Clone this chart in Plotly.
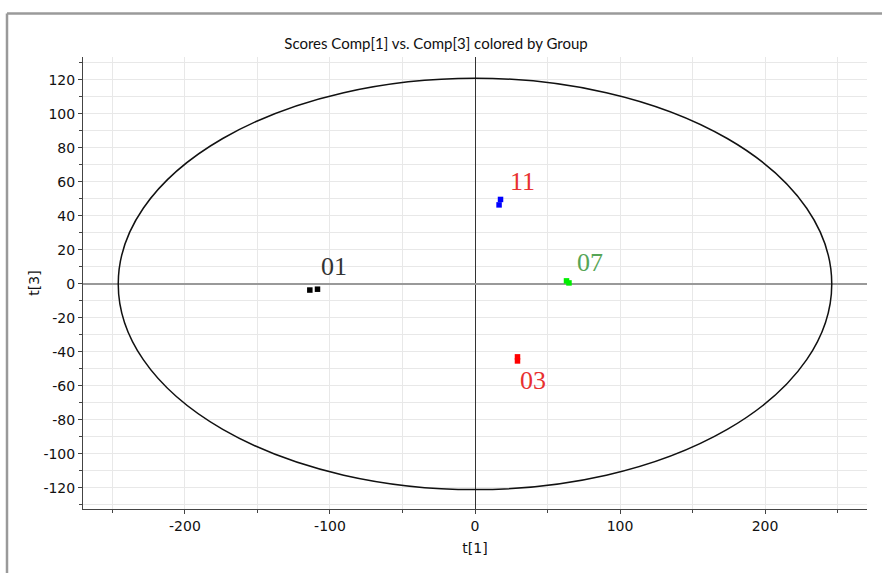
import plotly.graph_objects as go

# ---- data ----
groups = ["01", "11", "07", "03"]
group_x = {
    "01": [-113.9, -108.6],
    "11": [17.6, 16.6],
    "07": [63.1, 64.8],
    "03": [29.3, 29.3],
}
group_y = {
    "01": [-3.6, -3.1],
    "11": [49.7, 46.5],
    "07": [1.8, 0.6],
    "03": [-42.9, -45.3],
}
marker_colors = {"01": "#000000", "11": "#0000ff", "07": "#00ee00", "03": "#ff0000"}
label_colors = {"01": "#333333", "11": "#e8302f", "07": "#56a556", "03": "#e8302f"}
label_x = {"01": -97.0, "11": 33.0, "07": 79.0, "03": 40.0}
label_y = {"01": 10.0, "11": 60.5, "07": 12.5, "03": -57.0}

ellipse_a = 246.0
ellipse_b = 121.0

x_range = [-270.3, 270.3]
y_range = [-132.4, 133.5]
x_tickvals = [-200, -100, 0, 100, 200]
x_ticktext = ["-200", "-100", "0", "100", "200"]
y_tickvals = [-120, -100, -80, -60, -40, -20, 0, 20, 40, 60, 80, 100, 120]
y_ticktext = ["-120", "-100", "-80", "-60", "-40", "-20", "0", "20", "40", "60", "80", "100", "120"]

title_text = "Scores Comp[1] vs. Comp[3] colored by Group"
x_title = "t[1]"
y_title = "t[3]"

# ---- figure ----
fig = go.Figure()
for g in groups:
    fig.add_trace(go.Scatter(
        x=group_x[g], y=group_y[g], mode="markers",
        marker=dict(symbol="square", size=5.5, color=marker_colors[g], line=dict(width=0)),
        showlegend=False, hoverinfo="x+y",
    ))
    fig.add_annotation(
        x=label_x[g], y=label_y[g], text=g, showarrow=False,
        font=dict(family="Liberation Serif", size=26, color=label_colors[g]),
        xanchor="center", yanchor="middle",
    )

fig.add_shape(type="circle", xref="x", yref="y",
              x0=-ellipse_a, x1=ellipse_a, y0=-ellipse_b, y1=ellipse_b,
              line=dict(color="#111111", width=1.5), layer="above")

W, H = 882, 573
L, R, T, B = 83, 15, 57, 64
pw, ph = W - L - R, H - T - B
def px2x(px):
    return (px - L) / pw
def py2y(py):
    return (H - B - py) / ph

frame_color = "#9a9a9a"
fig.add_shape(type="line", xref="paper", yref="paper",
              x0=px2x(7), x1=px2x(W + 2), y0=py2y(13.5), y1=py2y(13.5),
              line=dict(color=frame_color, width=2.5))
fig.add_shape(type="line", xref="paper", yref="paper",
              x0=px2x(7), x1=px2x(7), y0=py2y(13.5), y1=py2y(H + 2),
              line=dict(color=frame_color, width=2.5))

tick_font = dict(family="DejaVu Sans", size=14, color="#111111")
fig.update_xaxes(
    range=x_range, tickvals=x_tickvals, ticktext=x_ticktext,
    showgrid=True, gridcolor="#e8e8e8", gridwidth=1,
    minor=dict(dtick=50, tick0=0, showgrid=True, gridcolor="#e8e8e8", ticks="outside", ticklen=3, tickcolor="#444"),
    ticks="outside", ticklen=4, tickcolor="#444", showline=True, linecolor="#444", linewidth=1,
    zeroline=True, zerolinecolor="#333333", zerolinewidth=1,
    tickfont=tick_font, title=dict(text=x_title, font=tick_font, standoff=10),
)
fig.update_yaxes(
    range=y_range, tickvals=y_tickvals, ticktext=y_ticktext,
    showgrid=True, gridcolor="#e8e8e8", gridwidth=1,
    minor=dict(dtick=10, tick0=0, showgrid=True, gridcolor="#e8e8e8", ticks="outside", ticklen=3, tickcolor="#444"),
    ticks="outside", ticklen=4, tickcolor="#444", showline=True, linecolor="#444", linewidth=1,
    zeroline=True, zerolinecolor="#999999", zerolinewidth=1.5,
    tickfont=tick_font, title=dict(text=y_title, font=tick_font, standoff=0),
)

fig.update_layout(
    width=W, height=H,
    margin=dict(l=L, r=R, t=T, b=B),
    paper_bgcolor="white", plot_bgcolor="white",
    title=dict(text=title_text, x=436 / W, xanchor="center", xref="container",
               y=1 - 44 / H, yanchor="middle", yref="container",
               font=dict(family="Lato", size=15, color="#111111")),
    showlegend=False,
)

fig.write_html("out.html", config={"displayModeBar": False},
               post_script="document.body.style.margin='0';")
